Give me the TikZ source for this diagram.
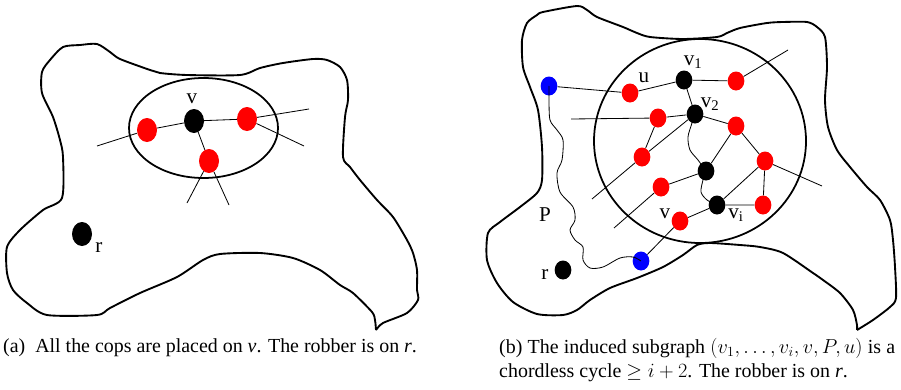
\documentclass[tikz,border=0pt]{standalone}
\usepackage{amsmath}
\usepackage{xcolor}
\usepackage{fontspec}
\setmainfont{Liberation Serif}
\usepackage{tikz}
\usetikzlibrary{positioning,shapes.geometric,calc}

\begin{document}
\begin{tikzpicture}[x=0.03cm, y=-0.03cm,
region/.style={line width=1.6pt, line join=round},
ball/.style={line width=1.5pt},
edge/.style={line width=0.7pt},
dotL/.style={ellipse, inner sep=0pt, minimum width=0.6cm, minimum height=0.72cm},
dotR/.style={ellipse, inner sep=0pt, minimum width=0.5cm, minimum height=0.57cm},
cop/.style={fill=red},
robber/.style={fill=black},
ends/.style={fill=blue},
lab/.style={inner sep=0pt, font=\fontsize{18}{20}\selectfont},
captext/.style={inner sep=0pt, font=\fontsize{17}{21.3}\selectfont}
]
\useasboundingbox (0,0) rectangle (901,389);

% (a) the region, the ball round v
\draw[region] plot[smooth, tension=0.45] coordinates {
 (376,330) (375,320) (372,312) (353,293) (340,285) (320,270) (293,258) (260,253)
 (220,254) (203,260) (177,277) (140,293) (110,308) (97,315) (47,315) (27,303)
 (13,290) (7,273) (7,247) (20,230) (43,210) (62,198) (63,157) (60,140) (53,117)
 (42,93) (42,72) (50,60) (63,47) (80,45) (97,44) (110,52) (120,59) (150,70)
 (160,73) (187,75) (240,75) (260,68) (283,63) (313,59) (327,60) (340,67) (347,80)
 (348,100) (345,117) (343,157) (350,167) (360,180) (377,200) (393,217) (407,240)
 (413,253) (417,270) (417,290) (418,300) (407,313) (383,323) (376,330)};
\draw[ball] (203.5,128) ellipse[x radius=74.5, y radius=50];

\coordinate (a1) at (97,146);
\coordinate (a2) at (309,109);
\coordinate (a3) at (304,146);
\coordinate (a4) at (187,203);
\coordinate (a5) at (229,205);

\node[dotL, robber] (lv) at (194,121) {};
\node[dotL, cop] (lc1) at (147,130) {};
\node[dotL, cop] (lc2) at (247,119) {};
\node[dotL, cop] (lc3) at (209,161) {};
\node[dotL, robber] (lr) at (82,234) {};

\draw[edge] (a1) -- (lc1) -- (lv) -- (lc2) -- (a2);
\draw[edge] (lc2) -- (a3);
\draw[edge] (lv) -- (lc3);
\draw[edge] (lc3) -- (a4);
\draw[edge] (lc3) -- (a5);

\node[lab] (lvl) at (192,99) {v};
\node[lab] (lrl) at (99,248) {r};

% (b) the region, the ball, the path P
\draw[region] plot[smooth, tension=0.45] coordinates {
 (857,330) (857,325) (853,310) (840,293) (823,280) (813,273) (783,253) (760,247)
 (740,245) (710,243) (697,245) (683,255) (663,267) (637,278) (610,288) (590,300)
 (577,310) (563,315) (537,314) (513,302) (497,283) (487,260) (488,233) (500,222)
 (520,207) (537,193) (542,180) (542,147) (538,110) (530,87) (523,67) (522,40)
 (527,23) (537,15) (543,12) (577,6) (587,10) (597,17) (623,27) (637,33) (650,37)
 (683,39) (717,37) (727,33) (740,28) (767,23) (783,22) (807,22) (817,27) (825,37)
 (827,67) (825,100) (828,127) (837,150) (850,167) (867,187) (880,200) (890,220)
 (893,240) (895,267) (896,298) (890,307) (873,320) (857,330)};
\draw[ball] (700,141) ellipse[x radius=106, y radius=102];

\coordinate (e1) at (788,50);
\coordinate (e2) at (571,119);
\coordinate (e3) at (592,199);
\coordinate (e4) at (822,186);
\coordinate (e5) at (614,228);

\node[dotR, ends] (b1) at (549,86) {};
\node[dotR, cop] (u) at (630,93) {};
\node[dotR, robber] (v1) at (684,80) {};
\node[dotR, cop] (c1) at (736,81) {};
\node[dotR, robber] (v2) at (695,114) {};
\node[dotR, cop] (c2) at (658,118) {};
\node[dotR, cop] (c3) at (736,126) {};
\node[dotR, cop] (c4) at (642,157) {};
\node[dotR, cop] (c5) at (765,161) {};
\node[dotR, robber] (m) at (706,171) {};
\node[dotR, cop] (c6) at (661,187) {};
\node[dotR, robber] (vi) at (717,205) {};
\node[dotR, cop] (c7) at (763,205) {};
\node[dotR, cop] (vv) at (680,221) {};
\node[dotR, ends] (b2) at (641,261) {};
\node[dotR, robber] (rr) at (563,270) {};

\draw[edge] (b1) -- (u) -- (v1) -- (c1) -- (e1);
\draw[edge] (v1) -- (v2);
\draw[edge] (e2) -- (c2) -- (v2) -- (c3);
\draw[edge] (c2) -- (c4);
\draw[edge] (v2) -- (c4) -- (e3);
\draw[edge] (c3) -- (m);
\draw[edge] (c3) -- (c5) -- (e4);
\draw[edge] (c5) -- (c7) -- (vi) -- (c5);
\draw[edge] (m) -- (c6) -- (e5);
\draw[edge] (vi) -- (vv) -- (b2);
\draw[edge] plot[smooth] coordinates {(v2) (692,123) (688,137) (690,150) (698,160) (m)};
\draw[edge] plot[smooth] coordinates {(m) (703,180) (701,192) (707,200) (vi)};
\draw[edge] plot[smooth, tension=0.5] coordinates {
 (b1) (549,100) (550,120) (557,130) (563,140) (562,160) (557,173) (560,192)
 (573,207) (575,220) (570,230) (575,240) (583,247) (583,260) (590,268) (603,267)
 (620,258) (633,257) (b2)};

\node[lab] (ul) at (644,78) {u};
\node[lab] (v1l) at (693,62) {v\textsubscript{1}};
\node[lab] (v2l) at (710,104) {v\textsubscript{2}};
\node[lab] (vil) at (736,215) {v\textsubscript{i}};
\node[lab] (vvl) at (665,214) {v};
\node[lab] (pl) at (545,215) {P};
\node[lab] (rl) at (545,275) {r};

% captions
\node[captext, anchor=base west] (capa) at (3,352)
 {(a)\enspace All the cops are placed on \textit{v}. The robber is on \textit{r}.};
\node[captext, anchor=base west, text width=338pt, align=justify] (capb) at (499,353)
 {(b) The induced subgraph $(v_1,\ldots,v_i,v,P,u)$ is a\linebreak
  chordless cycle $\geq i+2$. The robber is on \textit{r}.};
\end{tikzpicture}
\end{document}
